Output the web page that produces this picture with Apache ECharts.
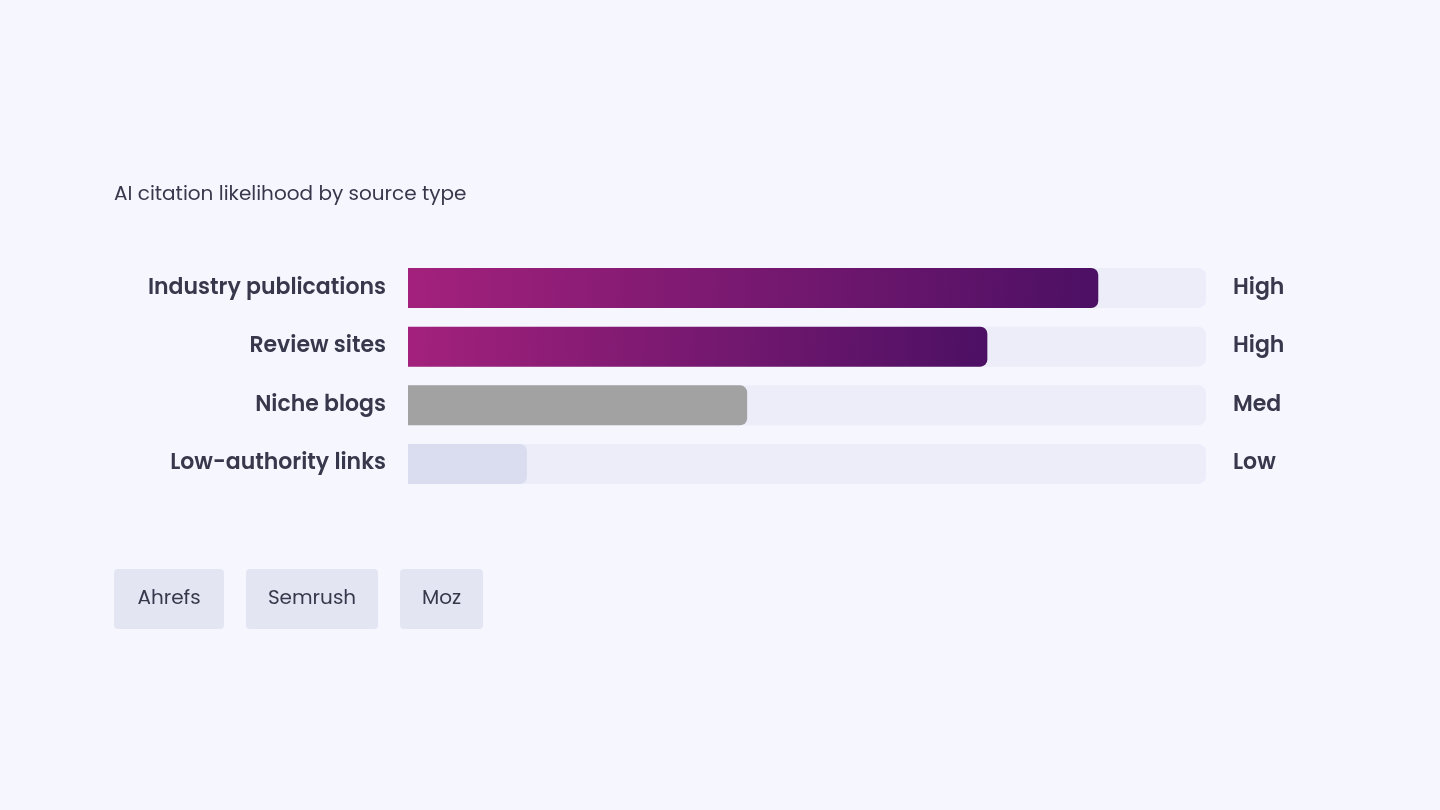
<!DOCTYPE html>
<html>
<head>
<meta charset="utf-8">
<script src="https://cdn.jsdelivr.net/npm/echarts@6/dist/echarts.min.js"></script>
<style>
  html, body { margin: 0; padding: 0; background: #f5f6fe; }
  #chart { width: 1440px; height: 810px; }
</style>
</head>
<body>
<div id="chart"></div>
<script>
// data
var categories = ['Industry publications', 'Review sites', 'Niche blogs', 'Low-authority links']
var values = [86.5, 72.6, 42.5, 14.9]
var levels = ['High', 'High', 'Med', 'Low']
var tools = ['Ahrefs', 'Semrush', 'Moz']

var textColor = '#38384c'
var font = 'Poppins, Inter, "Open Sans", sans-serif'

var purple = new echarts.graphic.LinearGradient(0, 0, 1, 1, [
  { offset: 0, color: '#a3217c' },
  { offset: 1, color: '#4c1064' }
])
var barColors = [purple, purple, '#a2a2a2', '#dadcf0']

var seriesData = values.map(function (v, i) {
  return { value: v, itemStyle: { color: barColors[i] } }
})

// tool chips
var chipX = [114, 246, 400]
var chipW = [110, 132, 83]
var chips = []
tools.forEach(function (t, i) {
  chips.push({
    type: 'rect',
    shape: { x: chipX[i], y: 569, width: chipW[i], height: 60, r: 4 },
    style: { fill: '#e3e5f3' }
  })
  chips.push({
    type: 'text',
    x: chipX[i] + chipW[i] / 2, y: 599,
    style: { text: t, fill: textColor, font: '400 20px ' + font, align: 'center', verticalAlign: 'middle' }
  })
})

var option = {
  backgroundColor: '#f5f6fe',
  animation: false,
  graphic: [{
    type: 'text', x: 114, y: 195,
    style: { text: 'AI citation likelihood by source type', fill: textColor, font: '400 20px ' + font, verticalAlign: 'middle' }
  }].concat(chips),
  grid: { left: 408, right: 234, top: 258.7, height: 234.6 },
  xAxis: { type: 'value', min: 0, max: 100, show: false },
  yAxis: [{
    type: 'category', data: categories, inverse: true,
    axisLine: { show: false }, axisTick: { show: false },
    axisLabel: { color: textColor, fontSize: 22, fontWeight: 600, fontFamily: font, margin: 22 }
  }, {
    type: 'category', data: levels, inverse: true, position: 'right',
    axisLine: { show: false }, axisTick: { show: false },
    axisLabel: { color: textColor, fontSize: 22, fontWeight: 600, fontFamily: font, margin: 27, align: 'left' }
  }],
  series: [{
    type: 'bar',
    data: seriesData,
    barWidth: 40,
    itemStyle: { borderRadius: [0, 7, 7, 0] },
    showBackground: true,
    backgroundStyle: { color: '#ecedf9', borderRadius: [3, 8, 8, 3] }
  }]
}

var chart = echarts.init(document.getElementById('chart'))
chart.setOption(option)
</script>
</body>
</html>
